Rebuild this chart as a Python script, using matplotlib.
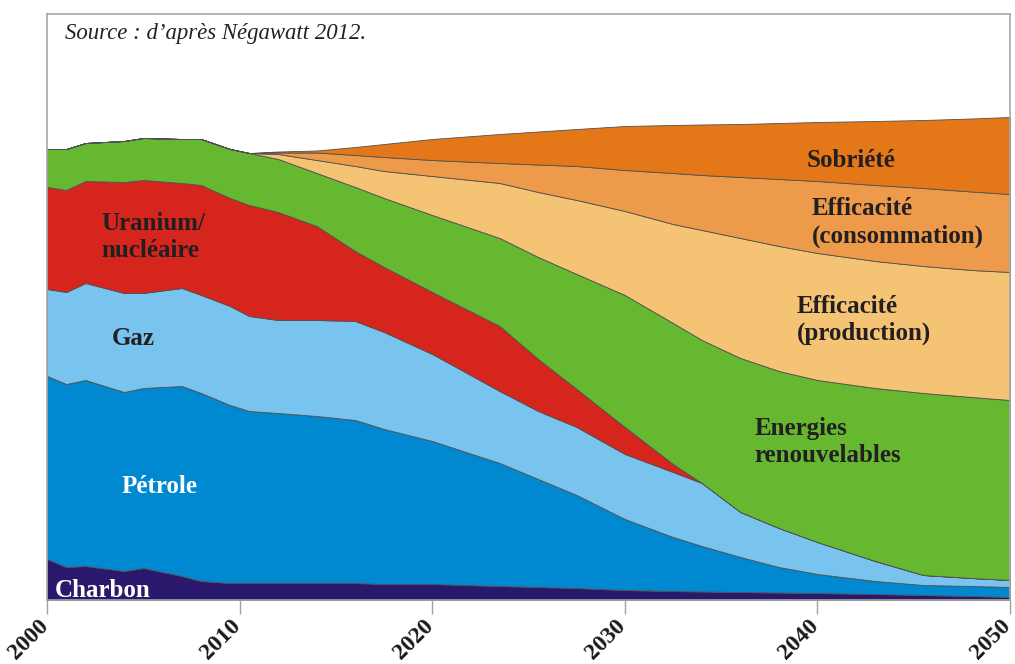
import matplotlib
matplotlib.use("Agg")
import matplotlib.pyplot as plt
import matplotlib.transforms as mtransforms
import numpy as np

# ---- data (arbitrary energy units) ----
years = [2000, 2001, 2002, 2004, 2005, 2007, 2008, 2009.5, 2010.5, 2012, 2014, 2016,
         2017.5, 2020, 2023.5, 2025.5, 2027.5, 2030, 2032.5, 2034, 2036, 2038, 2040,
         2043, 2045.5, 2048, 2050]

charbon = [41, 33, 34, 29, 32, 24, 19, 17, 17, 17, 17, 17, 16, 16, 14, 13, 12, 10, 9,
           8.5, 8, 7.5, 7, 6, 5, 4, 3]
petrole = [183, 183, 186, 179, 180, 190, 188, 178, 172, 170, 167, 163, 155, 143, 123,
           108, 93, 71, 54, 45.5, 35, 25.5, 19, 13, 10, 10, 10]
gaz = [87, 92, 97, 99, 95, 98, 98, 99, 95, 93, 96, 99, 97, 87, 72, 68, 68, 65, 65, 63,
       45, 39, 32, 20, 10, 8, 7]
uranium = [102, 102, 102, 111, 113, 105, 110, 108, 111, 108, 94, 70, 65, 62, 65, 52,
           38, 27, 8, 0, 0, 0, 0, 0, 0, 0, 0]
renouvelables = [38, 41, 38, 41, 42, 44, 46, 49, 52, 53, 53, 64, 69, 77, 88, 102, 115,
                 132, 141, 143, 154, 157, 162, 173, 182, 181, 180]
eff_production = [0, 0, 0, 0, 0, 0, 0, 0, 0, 5, 13, 21, 27, 39, 55, 65, 74, 84, 99,
                  110, 120, 125, 127, 127, 127, 127, 128]
eff_consommation = [0, 0, 0, 0, 0, 0, 0, 0, 0, 1.5, 7.5, 11, 14, 16, 20, 27.5, 34, 41,
                    51, 55, 61, 67, 72, 76, 78, 78.5, 78]
sobriete = [0, 0, 0, 0, 0, 0, 0, 0, 0, 1, 2, 8, 13, 21, 29, 33, 37, 44, 48, 50.5, 53,
            56, 59, 64, 68, 73, 77]

tick_years = [2000, 2010, 2020, 2030, 2040, 2050]

colors = ["#2a186c", "#0088d0", "#78c4ee", "#d6251d", "#67b831", "#f5c374",
          "#ed9b4b", "#e47818"]

serif = ["Liberation Serif", "DejaVu Serif"]

fig = plt.figure(figsize=(10.15, 6.64), dpi=100)
ax = fig.add_axes([47 / 1015, 64 / 664, (1010 - 47) / 1015, (600 - 14) / 664])

ax.stackplot(years, charbon, petrole, gaz, uranium, renouvelables, eff_production,
             eff_consommation, sobriete, colors=colors, edgecolor="#505050",
             linewidth=0.6)

ax.set_xlim(2000, 2050)
ax.set_ylim(0, 586)
for s in ax.spines.values():
    s.set_color("#a8a8a8")
    s.set_linewidth(1.2)
ax.set_yticks([])
ax.set_xticks(tick_years)
ax.set_xticklabels([str(t) for t in tick_years], rotation=45, ha="right", va="top",
                   rotation_mode="anchor", fontsize=17, fontweight="bold",
                   family=serif, color="#1a1a1a")
ax.tick_params(axis="x", direction="out", length=10, width=1, color="#a0a0a0", pad=2)
shift = mtransforms.ScaledTranslation(-0.095, 0.01, fig.dpi_scale_trans)
for lbl in ax.get_xticklabels():
    lbl.set_transform(lbl.get_transform() + shift)


def lab(x, y, s, color="#231f20", ha="left"):
    ax.text(x, y, s, ha=ha, va="baseline", fontsize=18, fontweight="bold",
            family=serif, color=color)


lab(2002.84, 370, "Uranium/")
lab(2002.84, 343, "nucléaire")
lab(2004.5, 255, "Gaz", ha="center")
lab(2005.85, 107, "Pétrole", color="white", ha="center")
lab(2002.88, 3, "Charbon", color="white", ha="center")
lab(2041.75, 433, "Sobriété", ha="center")
lab(2039.7, 385, "Efficacité")
lab(2039.7, 357, "(consommation)")
lab(2038.92, 287, "Efficacité")
lab(2038.92, 260, "(production)")
lab(2036.74, 165, "Energies")
lab(2036.74, 138, "renouvelables")

ax.text(2000.93, 561, "Source : d\u2019après Négawatt 2012.", ha="left", va="baseline",
        fontsize=16.4, style="italic", family=serif, color="#222222")

fig.savefig("out.png", dpi=100)
